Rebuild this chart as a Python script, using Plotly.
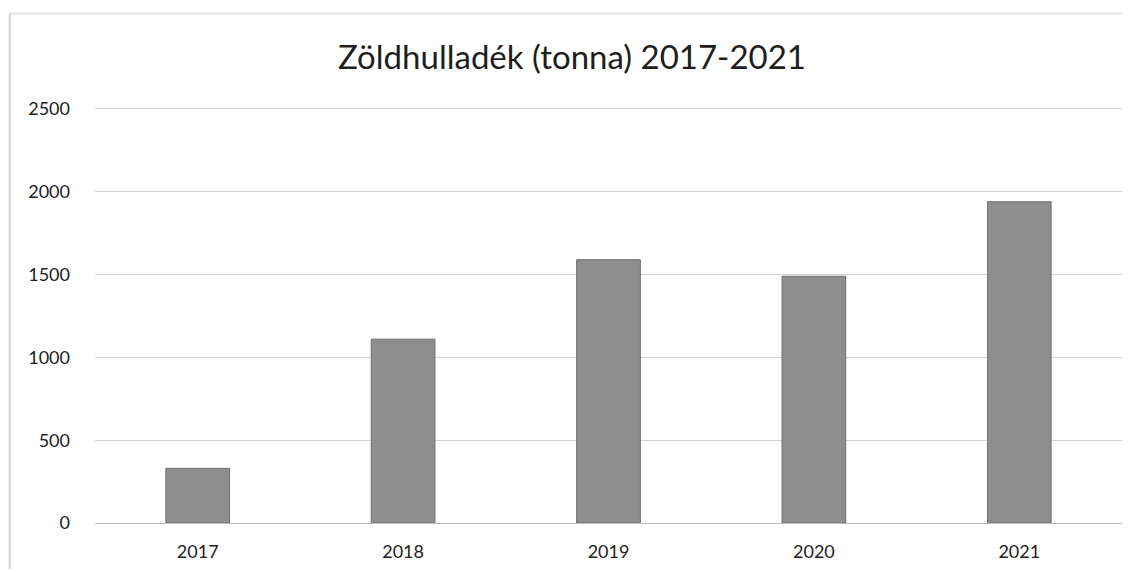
import plotly.graph_objects as go

years = ['2017', '2018', '2019', '2020', '2021']
tonnes = [330, 1110, 1590, 1490, 1940]
y_ticks = [0, 500, 1000, 1500, 2000, 2500]

fig = go.Figure()
fig.add_trace(
    go.Bar(
        x=years,
        y=tonnes,
        marker=dict(color='#8e8e8e', line=dict(color='#6f6f6f', width=1)),
        width=0.31,
    )
)

# the page body has an 8px default margin, so the figure is 8px smaller
fig.update_layout(
    width=1128,
    height=564,
    margin=dict(l=87, r=14, t=99, b=49),
    paper_bgcolor='white',
    plot_bgcolor='white',
    showlegend=False,
    font=dict(family='Lato, Open Sans, sans-serif', color='#222222', size=18),
    title=dict(
        text='Zöldhulladék (tonna) 2017-2021',
        x=0.5,
        xanchor='center',
        y=0.913,
        yanchor='middle',
        yref='container',
        font=dict(size=33, color='#1e1e1e'),
    ),
)
fig.update_xaxes(
    type='category',
    showgrid=False,
    showline=False,
    ticks='',
    automargin=False,
    ticklabelstandoff=16,
    tickfont=dict(size=18),
)
# a little headroom so the 2500 gridline is drawn
fig.update_yaxes(
    range=[0, 2512],
    tickvals=y_ticks,
    showgrid=True,
    gridcolor='#d4d4d4',
    gridwidth=1,
    zeroline=True,
    zerolinecolor='#bdbdbd',
    zerolinewidth=1,
    ticks='',
    automargin=False,
    ticklabelstandoff=24,
    tickfont=dict(size=18),
)

# faint frame of the scanned chart box
fig.add_shape(type='line', xref='paper', yref='paper',
              x0=-0.083, x1=-0.083, y0=-0.11, y1=1.225,
              line=dict(color='#d0d0d0', width=2))
fig.add_shape(type='line', xref='paper', yref='paper',
              x0=-0.083, x1=1.0, y0=1.225, y1=1.225,
              line=dict(color='#e2e2e2', width=2))

fig.write_html("out.html")
